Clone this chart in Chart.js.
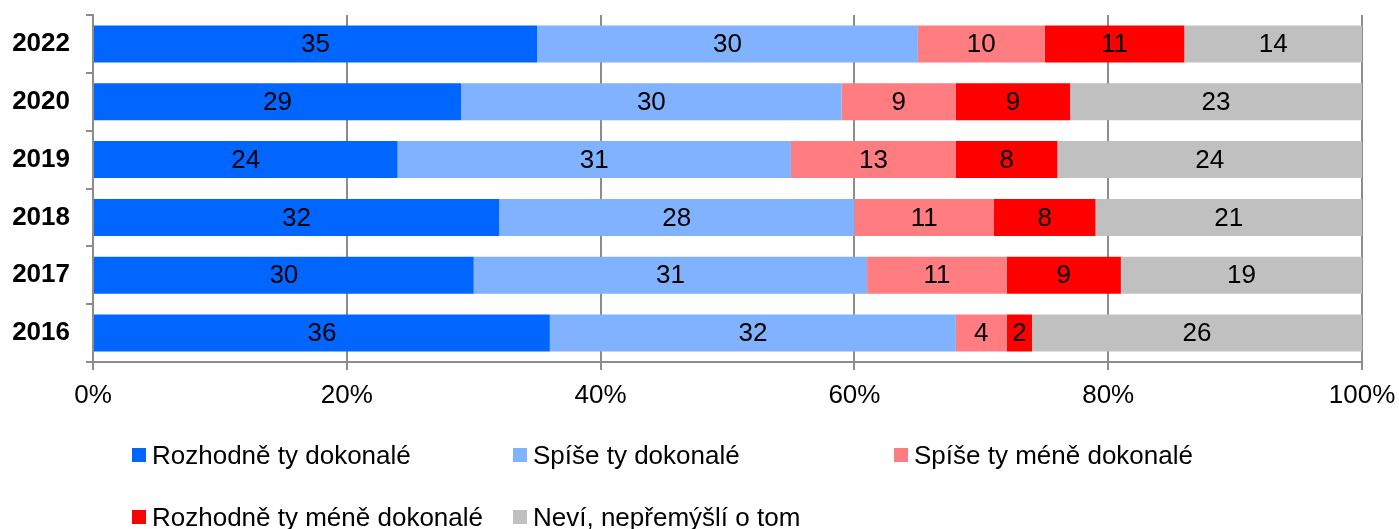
<!DOCTYPE html>
<html>
<head>
<meta charset="utf-8">
<script src="https://cdn.jsdelivr.net/npm/chart.js@4.4.1/dist/chart.umd.min.js"></script>
<style>
  html, body { margin: 0; padding: 0; background: #fff; }
  #wrap { position: relative; width: 1399px; height: 529px; overflow: hidden; }
  #c { position: absolute; left: 0; top: 0; }
  #legend { position: absolute; left: 132px; top: 424px; display: grid;
    grid-template-columns: 381px 381px 381px; grid-auto-rows: 62px;
    font-family: "Liberation Sans", Arial, sans-serif; font-size: 26px; color: #000; }
  .item { display: flex; align-items: center; height: 62px; white-space: nowrap; }
  .box { width: 14px; height: 14px; margin-right: 6px; flex: none; }
</style>
</head>
<body>
<div id="wrap">
  <canvas id="c" width="1399" height="529"></canvas>
  <div id="legend"></div>
</div>
<script>
const categories = ["2022", "2020", "2019", "2018", "2017", "2016"];
const seriesNames = ["Rozhodně ty dokonalé", "Spíše ty dokonalé", "Spíše ty méně dokonalé", "Rozhodně ty méně dokonalé", "Neví, nepřemýšlí o tom"];
const rozhodneDokonale = [35, 29, 24, 32, 30, 36];
const spiseDokonale = [30, 30, 31, 28, 31, 32];
const spiseMeneDokonale = [10, 9, 13, 11, 11, 4];
const rozhodneMeneDokonale = [11, 9, 8, 8, 9, 2];
const nevi = [14, 23, 24, 21, 19, 26];
const xTicks = [0, 20, 40, 60, 80, 100];
const colors = ["#0066ff", "#80b2ff", "#ff7c80", "#ff0000", "#c0c0c0"];

const seriesValues = [rozhodneDokonale, spiseDokonale, spiseMeneDokonale, rozhodneMeneDokonale, nevi];
const FONT = '"Liberation Sans", Arial, sans-serif';

const datasets = seriesNames.map((name, i) => ({
  label: name,
  data: seriesValues[i],
  backgroundColor: colors[i],
  borderWidth: 0,
  categoryPercentage: 1,
  barPercentage: 0.64
}));

const labelPlugin = {
  id: 'barLabels',
  afterDatasetsDraw(chart) {
    const ctx = chart.ctx;
    ctx.save();
    ctx.font = '26px ' + FONT;
    ctx.fillStyle = '#000';
    ctx.textAlign = 'center';
    ctx.textBaseline = 'middle';
    chart.data.datasets.forEach((ds, di) => {
      const meta = chart.getDatasetMeta(di);
      meta.data.forEach((el, i) => {
        const v = ds.data[i];
        if (!v) return;
        ctx.fillText(String(v), (el.x + el.base) / 2, el.y + 1);
      });
    });
    ctx.restore();
  }
};

const gridColor = '#8c8c8c';

new Chart(document.getElementById('c'), {
  type: 'bar',
  data: { labels: categories, datasets },
  options: {
    indexAxis: 'y',
    responsive: false,
    animation: false,
    layout: { padding: { top: 15, right: 37, bottom: 0, left: 0 } },
    plugins: { legend: { display: false }, tooltip: { enabled: false } },
    scales: {
      x: {
        stacked: true, min: 0, max: 100,
        afterBuildTicks(scale) { scale.ticks = xTicks.map(v => ({ value: v })); },
        afterFit(scale) {
          scale.height = 167;
          scale.paddingLeft = 0; scale.paddingRight = 0;
          scale.paddingTop = 0; scale.paddingBottom = 0;
        },
        ticks: {
          callback: v => v + '%',
          font: { family: FONT, size: 26 }, color: '#000', padding: 10, maxRotation: 0
        },
        grid: { color: gridColor, lineWidth: 2, tickLength: 8, drawOnChartArea: true },
        border: { color: gridColor, width: 2 }
      },
      y: {
        stacked: true,
        afterFit(scale) {
          scale.width = 93;
          scale.paddingLeft = 0; scale.paddingRight = 0;
          scale.paddingTop = 0; scale.paddingBottom = 0;
        },
        ticks: { font: { family: FONT, size: 26, weight: 'bold' }, color: '#000', padding: 16 },
        grid: { color: gridColor, lineWidth: 2, tickLength: 7, drawOnChartArea: false, offset: true },
        border: { color: gridColor, width: 2 }
      }
    }
  },
  plugins: [labelPlugin]
});

const legend = document.getElementById('legend');
seriesNames.forEach((name, i) => {
  const item = document.createElement('div');
  item.className = 'item';
  const box = document.createElement('span');
  box.className = 'box';
  box.style.background = colors[i];
  const txt = document.createElement('span');
  txt.textContent = name;
  item.appendChild(box);
  item.appendChild(txt);
  legend.appendChild(item);
});
</script>
</body>
</html>
